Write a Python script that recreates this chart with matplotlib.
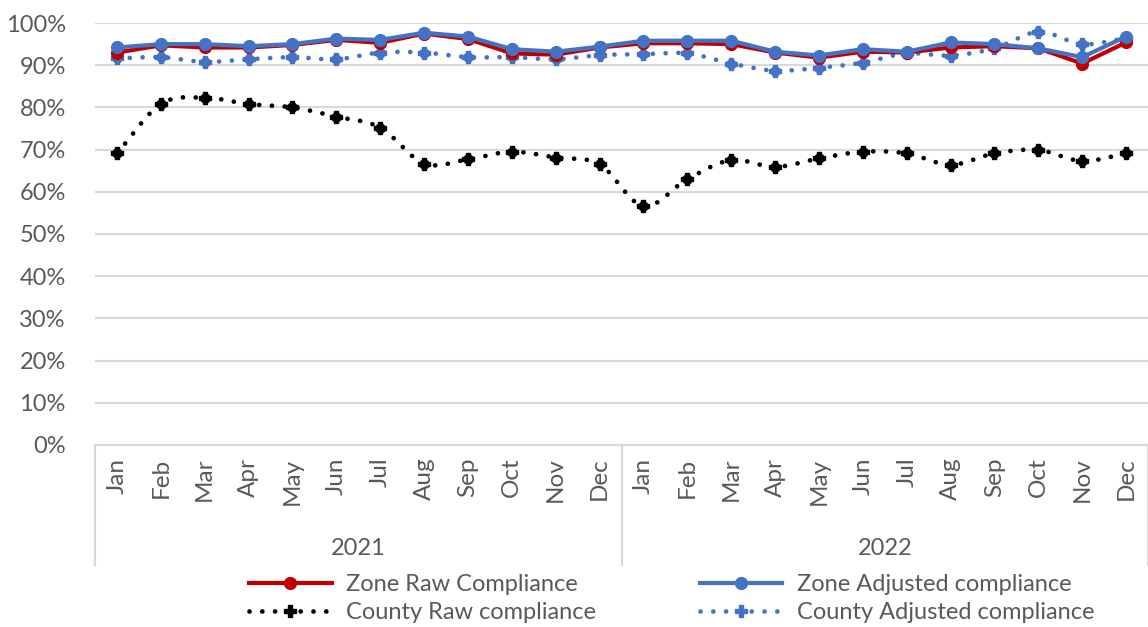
import numpy as np
import matplotlib
matplotlib.use("Agg")
import matplotlib.pyplot as plt
from matplotlib.lines import Line2D
from matplotlib.transforms import blended_transform_factory

plt.rcParams['font.family'] = ['Lato', 'DejaVu Sans']

months = ["Jan", "Feb", "Mar", "Apr", "May", "Jun",
          "Jul", "Aug", "Sep", "Oct", "Nov", "Dec"]
years = ["2021", "2022"]

zone_raw = [93.0, 94.7, 94.2, 94.2, 94.8, 96.0, 95.3, 97.5, 96.2, 92.8, 92.5, 94.2,
            95.2, 95.2, 95.0, 93.0, 91.8, 93.2, 93.0, 94.2, 94.5, 94.0, 90.4, 95.4]
zone_adjusted = [94.2, 95.0, 95.0, 94.5, 95.0, 96.3, 96.0, 97.7, 96.8, 93.8, 93.2, 94.4,
                 95.8, 95.8, 95.8, 93.2, 92.3, 93.8, 93.2, 95.4, 95.0, 94.0, 91.9, 96.8]
county_raw = [69.1, 80.8, 82.3, 80.8, 80.0, 77.8, 75.2, 66.7, 67.7, 69.5, 68.1, 66.5,
              56.6, 63.0, 67.5, 65.9, 67.9, 69.5, 69.1, 66.4, 69.1, 69.9, 67.3, 69.1]
county_adjusted = [91.6, 91.9, 90.8, 91.4, 91.9, 91.4, 93.0, 93.0, 91.9, 91.9, 91.4, 92.4,
                   92.6, 92.8, 90.4, 88.7, 89.4, 90.6, 92.8, 92.3, 94.0, 97.9, 95.0, 96.4]

RED = "#C00000"
BLUE = "#4472C4"
BLACK = "#000000"
TXT = "#595959"
GRID = "#D9D9D9"
FS = 17


def smooth(x, y, n=24):
    """Catmull-Rom spline through the points (Excel-style smoothed line)."""
    x = np.asarray(x, float)
    y = np.asarray(y, float)
    px = np.concatenate([[2 * x[0] - x[1]], x, [2 * x[-1] - x[-2]]])
    py = np.concatenate([[2 * y[0] - y[1]], y, [2 * y[-1] - y[-2]]])
    xs, ys = [], []
    t = np.linspace(0, 1, n, endpoint=False)
    for i in range(1, len(px) - 2):
        for arr, out in ((px, xs), (py, ys)):
            p0, p1, p2, p3 = arr[i - 1], arr[i], arr[i + 1], arr[i + 2]
            out.extend(0.5 * ((2 * p1) + (-p0 + p2) * t
                              + (2 * p0 - 5 * p1 + 4 * p2 - p3) * t ** 2
                              + (-p0 + 3 * p1 - 3 * p2 + p3) * t ** 3))
    xs.append(x[-1])
    ys.append(y[-1])
    return np.array(xs), np.array(ys)


fig = plt.figure(figsize=(11.48, 6.27), dpi=100)
ax = fig.add_axes([0.0828, 0.2903, 0.9172, 0.673])

n = len(zone_raw)
x = np.arange(n)

DOT_LW = 3.4
dot_style = (0, (0.01, 2.7))

# County series: smoothed dotted lines with blob markers
for vals, col in ((county_adjusted, BLUE), (county_raw, BLACK)):
    sx, sy = smooth(x, vals)
    ax.plot(sx, sy, color=col, lw=DOT_LW, linestyle=dot_style,
            dash_capstyle='round', zorder=3)
    ax.plot(x, vals, linestyle='none', marker='o', ms=6.5, color=col, zorder=4)
    ax.plot(x, vals, linestyle='none', marker='P', ms=8, color=col, zorder=4)

# Zone series: solid lines with circle markers
ax.plot(x, zone_raw, color=RED, lw=3, marker='o', ms=8.5, zorder=5)
ax.plot(x, zone_adjusted, color=BLUE, lw=3, marker='o', ms=8.5, zorder=6)

ax.set_xlim(-0.5, n - 0.5)
ax.set_ylim(0, 100)
ax.set_yticks(np.arange(0, 101, 10))
ax.set_yticklabels([f"{v}%" for v in range(0, 101, 10)])
ax.tick_params(axis='y', length=0, labelsize=FS, labelcolor=TXT, pad=21)
ax.tick_params(axis='x', length=0, labelbottom=False)
ax.grid(axis='y', color=GRID, lw=1.5)
ax.set_axisbelow(True)
for side in ('left', 'right', 'top'):
    ax.spines[side].set_visible(False)
ax.spines['bottom'].set_color(GRID)
ax.spines['bottom'].set_linewidth(1.5)

# Two-level category axis
trans = blended_transform_factory(ax.transData, ax.transAxes)
for i in range(n):
    ax.text(i, -0.03, months[i % 12], transform=trans, rotation=90,
            ha='center', va='top', fontsize=FS + 0.5, color=TXT)
for k, yr in enumerate(years):
    ax.text(k * 12 + 5.5, -0.245, yr, transform=trans, ha='center', va='center',
            fontsize=FS, color=TXT)
for xb in (-0.5, 11.5, n - 0.5):
    ax.plot([xb, xb], [0, -0.284], transform=trans, color=GRID, lw=1.5,
            clip_on=False)

# Legend
def proxy(col, dotted):
    if dotted:
        return Line2D([], [], color=col, lw=DOT_LW, linestyle=dot_style,
                      dash_capstyle='round', marker='P', ms=8)
    return Line2D([], [], color=col, lw=3, marker='o', ms=8.5)


handles = [proxy(RED, False), proxy(BLACK, True), proxy(BLUE, False), proxy(BLUE, True)]
labels = ["Zone Raw Compliance", "County Raw compliance",
          "Zone Adjusted compliance", "County Adjusted compliance"]
leg = fig.legend(handles, labels, ncol=2, loc='center', bbox_to_anchor=(0.585, 0.045),
                 frameon=False, fontsize=FS, handlelength=3.5, columnspacing=4.4,
                 handletextpad=0.6, labelspacing=0.28, borderpad=0, markerscale=1)
for t in leg.get_texts():
    t.set_color(TXT)

fig.savefig("out.png", dpi=100)
